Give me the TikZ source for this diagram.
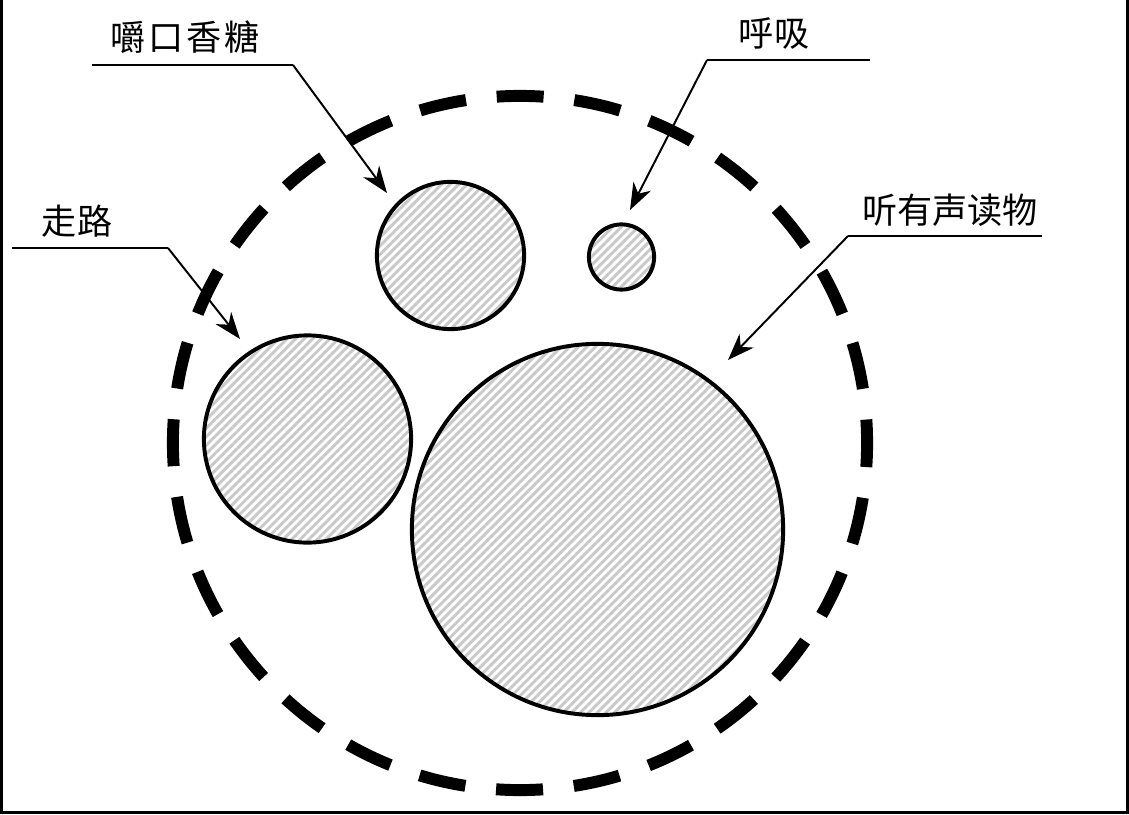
\documentclass[tikz,border=0pt]{standalone}
\usepackage{fontspec}
\newfontfamily\cjk{Noto Sans CJK SC}
\usetikzlibrary{arrows.meta,patterns.meta}

\begin{document}
\begin{tikzpicture}[
    x=0.025cm, y=-0.025cm,
    font=\cjk\fontsize{25}{30}\selectfont,
    % Styles
    activity/.style={draw, circle, line width=2.8pt, inner sep=0pt,
        pattern={Lines[angle=45, distance=4.3pt, line width=2.1pt]}, pattern color=gray!42},
    budget/.style={line width=8.5pt, dash pattern=on 33.4pt off 21.98pt, dash phase=16.7pt},
    label/.style={inner sep=0pt},
    lead/.style={line width=1.4pt},
    arrow/.style={-{Stealth[length=19pt, width=14pt, inset=6pt]}, line width=1.4pt},
]
    \useasboundingbox (0,0) rectangle (1129,814);

    % Frame (open at the top)
    \draw[line width=2.2pt] (1.5,0) -- (1.5,812.5) -- (1127.5,812.5) -- (1127.5,0);

    % Dashed outer circle
    \coordinate (mid) at (520,443);
    \draw[budget] (mid) circle[radius=8.675cm];

    % Activities
    \node[activity, minimum size=3.68cm] (chew) at (450.5,255.5) {};
    \node[activity, minimum size=1.63cm] (breath) at (621.5,257) {};
    \node[activity, minimum size=5.18cm] (walk) at (307.5,439) {};
    \node[activity, minimum size=9.28cm] (audio) at (597.5,529.5) {};

    % Labels
    \node[label] (chewtxt) at (185,37) {嚼\hspace{2pt}口\hspace{2pt}香\hspace{2pt}糖};
    \node[label] (walktxt) at (77,221) {走路};
    \node[label] (breathtxt) at (774,33) {呼吸};
    \node[label] (audiotxt) at (950,210) {听有声读物};

    % Leader lines
    \coordinate (chewA) at (92,65);
    \coordinate (chewB) at (293,65);
    \coordinate (chewC) at (387,193);
    \draw[lead] (chewA) -- (chewB);
    \draw[arrow] (chewB) -- (chewC);

    \coordinate (walkA) at (12,248);
    \coordinate (walkB) at (168,248);
    \coordinate (walkC) at (240,339);
    \draw[lead] (walkA) -- (walkB);
    \draw[arrow] (walkB) -- (walkC);

    \coordinate (breathA) at (870,60);
    \coordinate (breathB) at (707,60);
    \coordinate (breathC) at (630,210);
    \draw[lead] (breathA) -- (breathB);
    \draw[arrow] (breathB) -- (breathC);

    \coordinate (audioA) at (1042,236);
    \coordinate (audioB) at (848,236);
    \coordinate (audioC) at (728,360);
    \draw[lead] (audioA) -- (audioB);
    \draw[arrow] (audioB) -- (audioC);

\end{tikzpicture}
\end{document}
